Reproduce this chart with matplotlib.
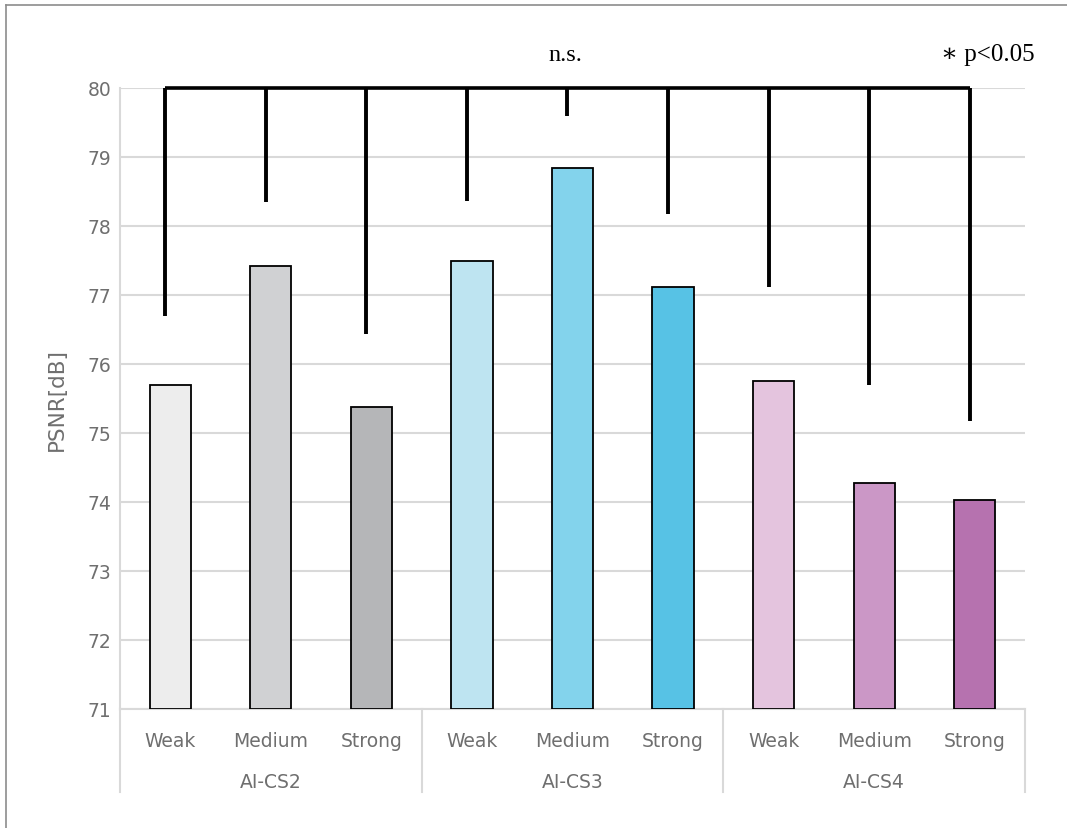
import numpy as np
import matplotlib
matplotlib.use("Agg")
import matplotlib.pyplot as plt
from matplotlib.lines import Line2D

# values
groups = ["AI-CS2", "AI-CS3", "AI-CS4"]
levels = ["Weak", "Medium", "Strong"]
psnr = [75.70, 77.42, 75.38,
        77.50, 78.84, 77.12,
        75.75, 74.27, 74.03]
bracket_ends = [76.70, 78.35, 76.43,
                78.36, 79.59, 78.17,
                77.12, 75.70, 75.17]
bar_colors = ["#ededed", "#d0d1d3", "#b5b6b8",
              "#bee4f1", "#83d3ec", "#57c2e5",
              "#e4c4de", "#cb97c6", "#b672af"]

grey_txt = "#6f6f6f"
grid_col = "#d9d9d9"

fig = plt.figure(figsize=(10.67, 8.29), dpi=100)
ax = fig.add_axes([120/1067, 1-710/829, 905/1067, 621/829])

x = np.arange(len(psnr))
ax.bar(x, np.array(psnr) - 71, bottom=71, width=0.41, color=bar_colors,
       edgecolor="black", linewidth=1.3, zorder=3)

ax.set_xlim(-0.5, len(psnr) - 0.5)
ax.set_ylim(71, 80)
ax.set_yticks(range(71, 81))
ax.yaxis.grid(True, color=grid_col, linewidth=1.5, zorder=0)
ax.set_axisbelow(True)
for s in ["top", "right"]:
    ax.spines[s].set_visible(False)
for s in ["left", "bottom"]:
    ax.spines[s].set_color(grid_col)
    ax.spines[s].set_linewidth(1.5)
ax.tick_params(axis="y", length=0, pad=6, labelsize=13.5, labelcolor=grey_txt)
ax.set_xticks([])

ax.set_ylabel("PSNR[dB]", fontsize=15.5, color=grey_txt)
ax.yaxis.set_label_coords(-0.0586, 0.5)

# two-row category axis
for i in x:
    ax.text(i, -0.0515, levels[i % 3], transform=ax.get_xaxis_transform(),
            ha="center", va="center", fontsize=13.5, color=grey_txt)
for g, name in enumerate(groups):
    ax.text(3*g + 1, -0.117, name, transform=ax.get_xaxis_transform(),
            ha="center", va="center", fontsize=13.5, color=grey_txt)
for b in [-0.5, 2.5, 5.5, 8.5]:
    ax.plot([b, b], [0, -0.134], transform=ax.get_xaxis_transform(),
            color=grid_col, linewidth=1.5, clip_on=False)

# significance bracket
bx = x - 0.05
ax.plot([bx[0], bx[-1]], [80, 80], color="black", linewidth=2.6,
        solid_capstyle="butt", clip_on=False, zorder=5)
for xi, yend in zip(bx, bracket_ends):
    ax.plot([xi, xi], [80, yend], color="black", linewidth=2.8,
            solid_capstyle="butt", clip_on=False, zorder=5)

ax.text(3.93, 80.49, "n.s.", ha="center", va="center",
        fontsize=17.5, family="Liberation Serif", color="black")
ax.text(1.011, 80.49, "\u2217 p<0.05", transform=ax.get_yaxis_transform(),
        ha="right", va="center", fontsize=18,
        family=["Liberation Serif", "DejaVu Serif"], color="black")

# outer frame (only top and left visible in the reference)
fig.add_artist(Line2D([6/1067, 1], [1-6/829, 1-6/829], color="#8c8c8c", linewidth=1.2))
fig.add_artist(Line2D([6/1067, 6/1067], [0, 1-6/829], color="#8c8c8c", linewidth=1.2))

fig.savefig("out.png", dpi=100)
